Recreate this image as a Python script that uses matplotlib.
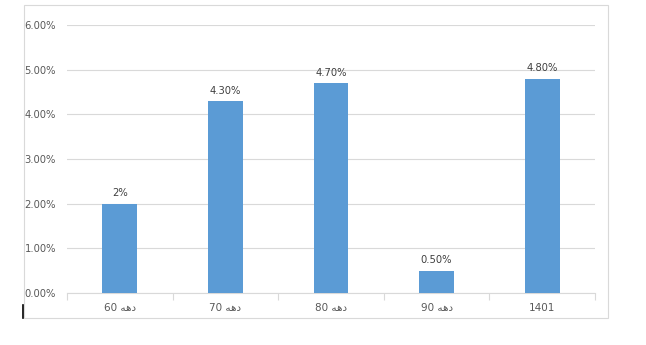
import matplotlib.pyplot as plt
from matplotlib.patches import Rectangle
from matplotlib.ticker import FuncFormatter
from matplotlib.lines import Line2D

# data
dahe = "\ufeea\ufeeb\ufea9"   # "دهه" in visual (presentation) form
categories = ["60 " + dahe, "70 " + dahe, "80 " + dahe, "90 " + dahe, "1401"]
values = [0.020, 0.043, 0.047, 0.005, 0.048]
value_labels = ["2%", "4.30%", "4.70%", "0.50%", "4.80%"]

BAR = "#5B9BD5"
GRID = "#D9D9D9"
TXT = "#595959"

fig = plt.figure(figsize=(6.46, 3.45), dpi=100)
fig.patch.set_facecolor("white")

# outer chart border
fig.add_artist(Rectangle((24 / 646, 1 - 318 / 345), (608 - 24) / 646, (318 - 5) / 345,
                         transform=fig.transFigure, fill=False, ec="#D9D9D9", lw=0.8))
# small black stroke at bottom-left
fig.add_artist(Line2D([23 / 646, 23 / 646], [1 - 318 / 345, 1 - 305 / 345],
                      transform=fig.transFigure, color="black", lw=1.2))

ax = fig.add_axes([67 / 646, 1 - 293 / 345, (595 - 67) / 646, (293 - 25) / 345])
x = range(len(categories))
ax.bar(x, values, width=0.33, color=BAR, zorder=3)

for xi, v, lab in zip(x, values, value_labels):
    ax.text(xi, v + 0.0012, lab, ha="center", va="bottom", fontsize=7.2, color="#404040")

ax.set_ylim(0, 0.06)
ax.set_xlim(-0.5, len(categories) - 0.5)
ax.set_yticks([i / 100 for i in range(7)])
ax.yaxis.set_major_formatter(FuncFormatter(lambda v, p: f"{v * 100:.2f}%"))
ax.yaxis.grid(True, color=GRID, lw=0.8, zorder=0)
ax.tick_params(axis="y", length=0, labelsize=7.2, labelcolor=TXT, pad=8)

ax.set_xticks(list(x))
ax.set_xticklabels(categories, family=["DejaVu Sans"])
ax.tick_params(axis="x", length=0, labelsize=7.5, labelcolor=TXT, pad=7)
ax.set_xticks([i - 0.5 for i in range(len(categories) + 1)], minor=True)
ax.tick_params(axis="x", which="minor", length=5, color=GRID, width=0.8)

for s in ["top", "right", "left"]:
    ax.spines[s].set_visible(False)
ax.spines["bottom"].set_color(GRID)
ax.spines["bottom"].set_linewidth(0.8)

fig.savefig("out.png", dpi=100)
